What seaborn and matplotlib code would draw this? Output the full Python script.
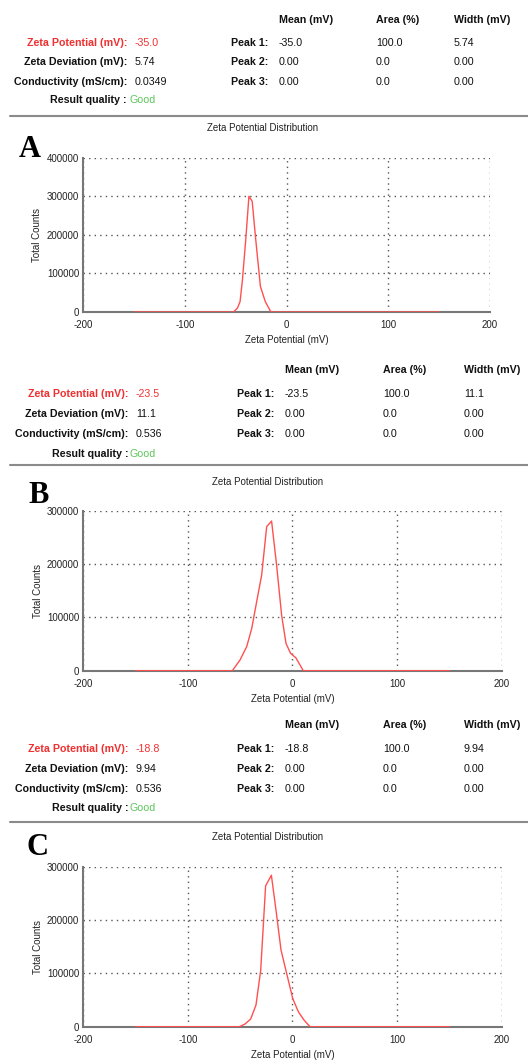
import matplotlib
matplotlib.use("Agg")
import matplotlib.pyplot as plt
from matplotlib.lines import Line2D
from matplotlib.ticker import MultipleLocator
import seaborn as sns
import pandas as pd

sns.set_style("white")
plt.rcParams['font.family'] = ['Liberation Sans', 'DejaVu Sans']
plt.rcParams['axes.unicode_minus'] = False

# ---------------- data ----------------
panel_letters = ["A", "B", "C"]
zeta_potential = ["-35.0", "-23.5", "-18.8"]
zeta_deviation = ["5.74", "11.1", "9.94"]
conductivity = ["0.0349", "0.536", "0.536"]
result_quality = ["Good", "Good", "Good"]
peak_labels = ["Peak 1:", "Peak 2:", "Peak 3:"]
col_headers = ["Mean (mV)", "Area (%)", "Width (mV)"]
peak_mean = [["-35.0", "0.00", "0.00"], ["-23.5", "0.00", "0.00"], ["-18.8", "0.00", "0.00"]]
peak_area = [["100.0", "0.0", "0.0"], ["100.0", "0.0", "0.0"], ["100.0", "0.0", "0.0"]]
peak_width = [["5.74", "0.00", "0.00"], ["11.1", "0.00", "0.00"], ["9.94", "0.00", "0.00"]]

xA = [-150, -52.3, -48.4, -45.8, -43.5, -40.3, -37.1, -33.9, -30.6, -25.8, -21.0, -15.5, 150]
yA = [0, 0, 10000, 27000, 83000, 185000, 300000, 287000, 193000, 66000, 27000, 0, 0]
xB = [-150, -57.5, -50.2, -43.8, -39.0, -34.3, -29.5, -24.7, -20.0, -15.2, -10.4, -6.2, -1.8, 3.3, 10.3, 150]
yB = [0, 0, 20000, 45000, 79000, 129000, 179000, 270000, 280600, 198000, 104000, 51000, 32500, 24000, 0, 0]
xC = [-150, -50.8, -45.4, -40.0, -34.9, -30.4, -25.7, -20.2, -15.8, -11.0, -5.6, 0.2, 5.6, 11.0, 16.7, 150]
yC = [0, 0, 5000, 14400, 40600, 106000, 264000, 284000, 219000, 144000, 100000, 53000, 28000, 12500, 0, 0]
curves_x = [xA, xB, xC]
curves_y = [yA, yB, yC]
y_max = [400000, 300000, 300000]

# ---------------- layout (pixels) ----------------
W, H = 528, 1061
fig = plt.figure(figsize=(W / 100, H / 100), dpi=100)


def fx(x):
    return x / W


def fy(y):
    return 1 - y / H


RED = "#f03030"
GREEN = "#5cc65c"
TXT = "#111111"
TS = 7.7

tables = [
    dict(lab_r=127, val_l=135, peak_r=268, cols=[279, 376, 454], rows=[20, 43, 62, 82, 100]),
    dict(lab_r=128, val_l=136, peak_r=274, cols=[285, 383, 464], rows=[370, 394, 414, 434, 454]),
    dict(lab_r=128, val_l=136, peak_r=274, cols=[285, 383, 464], rows=[725, 749, 769, 789, 808]),
]
axes_px = [(83.3, 490, 157.7, 312), (83.3, 501.7, 510.7, 670.7), (83.3, 501.7, 866.7, 1026.7)]
titles_px = [(263, 128), (267.5, 481.7), (268, 837)]
letters_px = [(19, 157), (28, 503), (26, 855)]
sep_y = [116, 465, 822]

for i in range(3):
    t = tables[i]
    r = t["rows"]
    # headers
    for c, h in zip(t["cols"], col_headers):
        fig.text(fx(c), fy(r[0]), h, ha="left", va="center", fontsize=TS, fontweight="bold", color=TXT)
    labels = ["Zeta Potential (mV):", "Zeta Deviation (mV):", "Conductivity (mS/cm):"]
    vals = [zeta_potential[i], zeta_deviation[i], conductivity[i]]
    for k in range(3):
        col = RED if k == 0 else TXT
        fig.text(fx(t["lab_r"]), fy(r[k + 1]), labels[k], ha="right", va="center", fontsize=TS,
                 fontweight="bold", color=col)
        fig.text(fx(t["val_l"]), fy(r[k + 1]), vals[k], ha="left", va="center", fontsize=TS,
                 color=col)
        fig.text(fx(t["peak_r"]), fy(r[k + 1]), peak_labels[k], ha="right", va="center",
                 fontsize=TS, fontweight="bold", color=TXT)
        for c, arr in zip(t["cols"], [peak_mean, peak_area, peak_width]):
            fig.text(fx(c), fy(r[k + 1]), arr[i][k], ha="left", va="center", fontsize=TS, color=TXT)
    fig.text(fx(t["lab_r"]), fy(r[4]), "Result quality :", ha="right", va="center", fontsize=TS,
             fontweight="bold", color=TXT)
    fig.text(fx(t["lab_r"] + 2), fy(r[4]), result_quality[i], ha="left", va="center", fontsize=TS,
             color=GREEN)

    # separator
    fig.add_artist(Line2D([fx(10), fx(W)], [fy(sep_y[i]), fy(sep_y[i])], color="#8a8a8a", lw=1.5))

    # title & letter
    fig.text(fx(titles_px[i][0]), fy(titles_px[i][1]), "Zeta Potential Distribution", ha="center",
             va="center", fontsize=7, color="#222222")
    fig.text(fx(letters_px[i][0]), fy(letters_px[i][1]), panel_letters[i], ha="left", va="baseline",
             fontsize=22, fontweight="bold", family=["Liberation Serif", "DejaVu Serif"], color="black")

    # axes
    l, rgt, top, bot = axes_px[i]
    ax = fig.add_axes([fx(l), fy(bot), (rgt - l) / W, (bot - top) / H])
    df = pd.DataFrame({"x": curves_x[i], "y": curves_y[i]})
    sns.lineplot(data=df, x="x", y="y", ax=ax, color="#ff5050", lw=1.0, sort=False, zorder=3)
    ax.set_xlim(-200, 200)
    ax.set_ylim(0, y_max[i])
    ax.xaxis.set_major_locator(MultipleLocator(100))
    ax.xaxis.set_minor_locator(MultipleLocator(50))
    ax.yaxis.set_major_locator(MultipleLocator(100000))
    ax.yaxis.set_minor_locator(MultipleLocator(50000))
    ax.grid(True, which="major", color="#555555", ls=(0, (1, 3)), lw=1.0)
    for s in ["top", "right"]:
        ax.spines[s].set_visible(False)
    for s in ["left", "bottom"]:
        ax.spines[s].set_color("#777777")
        ax.spines[s].set_linewidth(1.5)
        ax.spines[s].set_zorder(2)
    ax.tick_params(axis="x", which="major", direction="out", length=3, width=1, color="#555555",
                   labelsize=7, pad=3, labelcolor="#222222")
    ax.tick_params(axis="x", which="minor", direction="inout", length=5, width=1, color="#555555")
    ax.tick_params(axis="y", which="major", direction="out", length=2.5, width=1, color="#555555",
                   labelsize=7, pad=0.5, labelcolor="#222222")
    ax.tick_params(axis="y", which="minor", direction="inout", length=5, width=1, color="#555555")
    ax.set_xlabel("Zeta Potential (mV)", fontsize=7, color="#222222")
    ax.set_ylabel("Total Counts", fontsize=7, color="#222222")
    ax.xaxis.set_label_coords(0.5, -23.5 / (bot - top))
    ax.yaxis.set_label_coords(-(l - 42.5) / (rgt - l), 0.5)
    ax.set_facecolor("white")

fig.savefig("out.png", dpi=100, facecolor="white")
